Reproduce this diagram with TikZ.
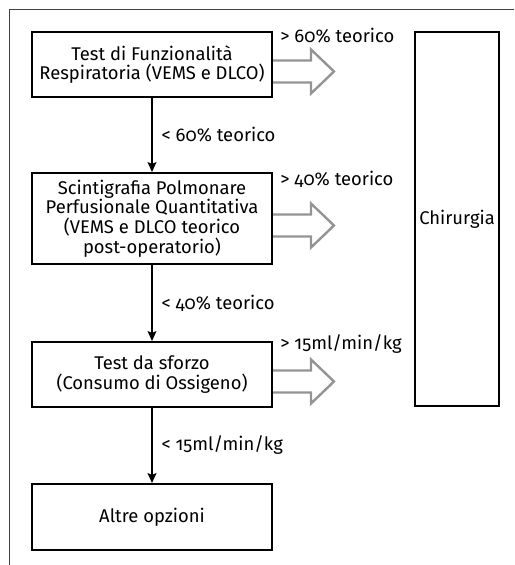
\documentclass[tikz,border=0pt]{standalone}
\usepackage{fontspec}
\setmainfont[Numbers=OldStyle]{Fira Sans}
\usetikzlibrary{arrows.meta}

\begin{document}
\begin{tikzpicture}[x=0.5pt,y=-0.5pt,
    font=\fontsize{9.2}{9.9}\selectfont,
    box/.style={draw,line width=1pt,align=center,minimum width=120pt,inner sep=0pt},
    lbl/.style={inner sep=0pt,anchor=west},
    hollow/.style={draw=black!42,line width=1.2pt,line join=miter},
    flow/.style={-{Stealth[length=5pt,width=4.5pt,inset=1pt]},line width=0.6pt}]
      \useasboundingbox (0,0) rectangle (514,565);
      \draw[black!75,line width=0.5pt] (514,9.5) -- (9.5,9.5) -- (9.5,565);
      \node[box,minimum height=32.5pt] (fr) at (152,64.5) {Test di Funzionalità\\Respiratoria (VEMS e DLCO)};
      \node[box,minimum height=45.5pt] (scint) at (152,218.5) {Scintigrafia Polmonare\\Perfusionale Quantitativa\\(VEMS e DLCO teorico\\post-operatorio)};
      \node[box,minimum height=32.5pt] (sforzo) at (152,374.5) {Test da sforzo\\(Consumo di Ossigeno)};
      \node[box,minimum height=33pt] (altre) at (152,517) {Altre opzioni};
      \node[box,minimum width=42pt,minimum height=187pt] (chir) at (457,219) {Chirurgia};
      \draw[flow] (fr) -- node[lbl,xshift=4.5pt] {< 60\% teorico} (scint);
      \draw[flow] (scint) -- node[lbl,xshift=4.5pt] {< 40\% teorico} (sforzo);
      \draw[flow] (sforzo) -- node[lbl,xshift=4.5pt] {< 15ml/min/kg} (altre);
      \node[lbl] at ([xshift=3.5pt,yshift=-2.5pt]fr.north east) {> 60\% teorico};
      \node[lbl] at ([xshift=3.5pt,yshift=-3.5pt]scint.north east) {> 40\% teorico};
      \node[lbl] at ([xshift=3.5pt,yshift=-1.5pt]sforzo.north east) {> 15ml/min/kg};
      \foreach \b in {fr,scint,sforzo}
        \draw[hollow] ([yshift=-3.5pt]\b.east) ++(0,-11) -- ++(38,0) -- ++(0,-11) -- ++(23,22) -- ++(-23,22) -- ++(0,-11) -- ++(-38,0);
    \end{tikzpicture}
\end{document}
